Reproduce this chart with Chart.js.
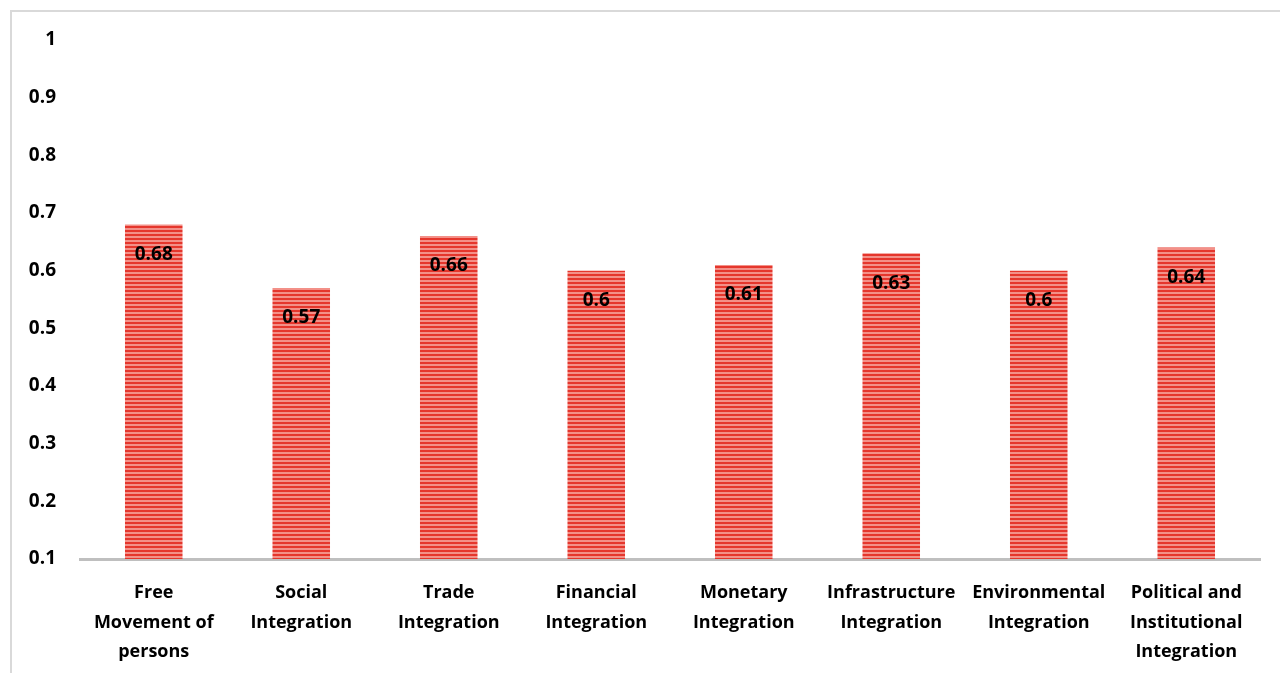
<!DOCTYPE html>
<html>
<head>
<meta charset="utf-8">
<script src="https://cdn.jsdelivr.net/npm/chart.js@4"></script>
<style>
  html, body { margin: 0; padding: 0; background: #fff; }
  #frame {
    position: absolute; left: 10px; top: 10px;
    width: 1290px; height: 700px;
    border: 2px solid #d9d9d9;
    box-sizing: border-box;
  }
  #wrap { position: absolute; left: 0; top: 0; width: 1280px; height: 673px; }
</style>
</head>
<body>
<div id="frame"></div>
<div id="wrap"><canvas id="chart1"></canvas></div>
<script>
const categories = [
    ['Free', 'Movement of', 'persons'],
    ['Social', 'Integration'],
    ['Trade', 'Integration'],
    ['Financial', 'Integration'],
    ['Monetary', 'Integration'],
    ['Infrastructure', 'Integration'],
    ['Environmental', 'Integration'],
    ['Political and', 'Institutional', 'Integration']
];
const scores = [0.68, 0.57, 0.66, 0.6, 0.61, 0.63, 0.6, 0.64];
const yMin = 0.1;
const yMax = 1;

const FONT = '"Open Sans", Lato, sans-serif';

// striped fill like the original bars
function stripePattern() {
    const c = document.createElement('canvas');
    c.width = 4;
    c.height = 4;
    const g = c.getContext('2d');
    g.fillStyle = '#f39088';
    g.fillRect(0, 0, 4, 4);
    g.fillStyle = '#e5362c';
    g.fillRect(0, 2, 4, 2);
    return g.createPattern(c, 'repeat');
}

const valueLabels = {
    id: 'valueLabels',
    afterDatasetsDraw(chart) {
        const ctx = chart.ctx;
        const meta = chart.getDatasetMeta(0);
        ctx.save();
        ctx.font = 'bold 19px ' + FONT;
        ctx.fillStyle = '#000';
        ctx.textAlign = 'center';
        ctx.textBaseline = 'middle';
        meta.data.forEach((bar, i) => {
            ctx.fillText(String(scores[i]), bar.x, bar.y + 30);
        });
        ctx.restore();
    }
};

const ctx = document.getElementById('chart1').getContext('2d');
new Chart(ctx, {
    type: 'bar',
    data: {
        labels: categories,
        datasets: [{
            data: scores,
            backgroundColor: stripePattern(),
            borderWidth: 0,
            categoryPercentage: 1,
            barPercentage: 0.39
        }]
    },
    options: {
        responsive: true,
        maintainAspectRatio: false,
        animation: false,
        layout: { padding: { top: 40, right: 20, left: 0, bottom: 0 } },
        plugins: {
            legend: { display: false },
            tooltip: { enabled: false }
        },
        scales: {
            x: {
                grid: { display: false, drawTicks: false },
                border: { display: true, color: '#bfbfbf', width: 3 },
                ticks: {
                    color: '#000',
                    padding: 19,
                    maxRotation: 0,
                    autoSkip: false,
                    font: { family: FONT, size: 18, weight: 'bold', lineHeight: 1.65 }
                },
                afterFit(scale) { scale.height = 114; }
            },
            y: {
                min: yMin,
                max: yMax,
                grid: { display: false, drawTicks: false },
                border: { display: false },
                ticks: {
                    stepSize: 0.1,
                    color: '#000',
                    padding: 24,
                    font: { family: FONT, size: 19, weight: 'bold' },
                    callback: v => String(Math.round(v * 10) / 10)
                },
                afterFit(scale) { scale.width = 80; }
            }
        }
    },
    plugins: [valueLabels]
});
</script>
</body>
</html>
